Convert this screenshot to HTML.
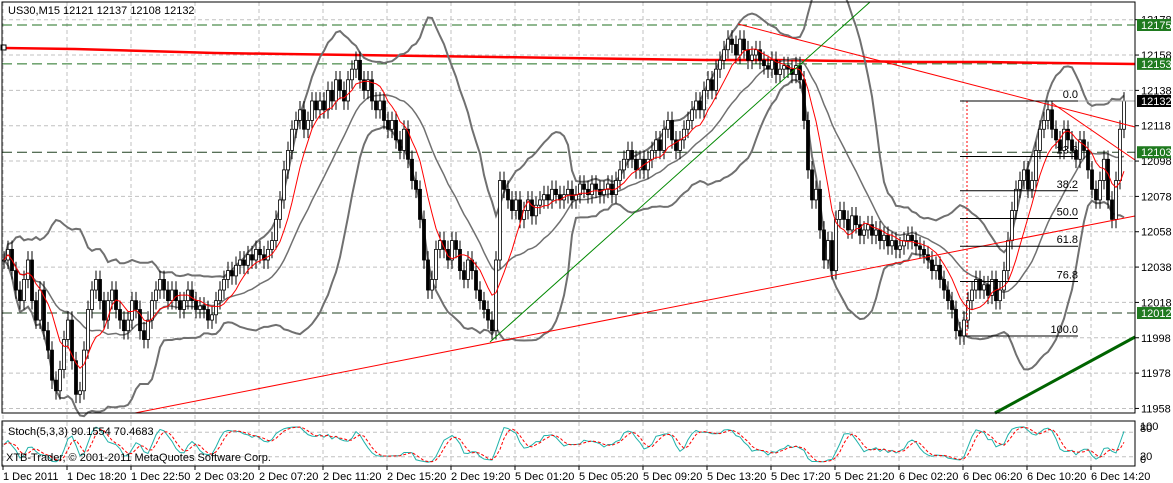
<!DOCTYPE html>
<html><head><meta charset="utf-8"><style>
body{margin:0;background:#fff;width:1173px;height:483px;overflow:hidden}
svg{display:block;font-family:"Liberation Sans",sans-serif}
</style></head><body>
<svg id="c" width="1173" height="483" viewBox="0 0 1173 483" xmlns="http://www.w3.org/2000/svg"></svg>
<script>
const closes=[12042,12048,12036,12025,12019,12031,12042,12019,12008,12025,
12002,11991,11974,11968,11980,11997,12008,11985,11966,11968,
11991,12014,12025,12031,12019,12008,12019,12025,12014,12008,
12002,12008,12019,12014,12002,11997,12008,12019,12025,12031,
12025,12019,12025,12019,12014,12019,12025,12019,12014,12016,
12014,12008,12011,12019,12025,12031,12036,12033,12039,12042,
12039,12045,12042,12048,12045,12042,12048,12053,12065,12076,
12093,12104,12116,12121,12127,12116,12121,12132,12127,12132,
12127,12138,12132,12144,12138,12132,12144,12150,12155,12144,
12138,12144,12132,12127,12132,12121,12116,12121,12110,12104,
12116,12099,12087,12082,12065,12042,12025,12031,12048,12053,
12048,12042,12053,12048,12036,12031,12042,12036,12025,12019,
12014,12008,12002,12042,12087,12082,12076,12070,12076,12065,
12070,12076,12067,12073,12076,12079,12076,12082,12079,12076,
12079,12082,12076,12079,12085,12082,12079,12085,12082,12079,
12082,12085,12079,12087,12093,12099,12104,12099,12093,12099,
12093,12099,12104,12110,12104,12116,12121,12110,12104,12110,
12116,12121,12127,12132,12127,12138,12144,12138,12150,12155,
12161,12167,12164,12158,12167,12161,12155,12158,12161,12155,
12152,12150,12155,12147,12150,12152,12150,12147,12152,12144,
12121,12093,12076,12082,12059,12042,12053,12036,12065,12070,
12065,12059,12067,12062,12056,12059,12062,12056,12059,12053,
12056,12050,12053,12048,12050,12053,12056,12053,12050,12048,
12045,12042,12036,12039,12031,12025,12019,12014,12002,11999,
12008,12019,12025,12031,12025,12028,12022,12031,12019,12025,
12036,12053,12070,12082,12087,12093,12082,12087,12104,12116,
12121,12127,12116,12110,12104,12116,12110,12104,12099,12110,
12104,12093,12082,12076,12087,12099,12076,12065,12087,12116,12132];
const priceTicks=[12178,12158,12138,12118,12098,12078,12058,12038,12018,11998,11978,11958];
const dateLabels=["1 Dec 2011","1 Dec 18:20","1 Dec 22:50","2 Dec 03:20","2 Dec 07:20","2 Dec 11:20","2 Dec 15:20","2 Dec 19:20","5 Dec 01:20","5 Dec 05:20","5 Dec 09:20","5 Dec 13:20","5 Dec 17:20","5 Dec 21:20","6 Dec 02:20","6 Dec 06:20","6 Dec 10:20","6 Dec 14:20"];
const levelPrices=[12175,12153,12103,12012];
const fibLevels=["0.0","23.6","38.2","50.0","61.8","76.8","100.0"];
const fibHigh=12132, fibLow=11999;

const S=document.getElementById('c');const NS='http://www.w3.org/2000/svg';
function el(t,a,p){const e=document.createElementNS(NS,t);for(const k in a)e.setAttribute(k,a[k]);(p||S).appendChild(e);return e;}
const y=p=>25+(12175-p)*1.767;
const x=i=>4+i*4;
const sy=v=>465-v*0.41;
const L=2,R=1135,T=2,B=413;

priceTicks.forEach(p=>{const g=el('line',{x1:L,x2:R,y1:y(p),y2:y(p),stroke:'#c0c0c0','stroke-dasharray':'4,3'});

const t=el('text',{x:1141,y:y(p)+4,'font-size':11,fill:'#000'});t.textContent=p;

el('line',{x1:R,x2:R+4,y1:y(p),y2:y(p),stroke:'#000'});});
dateLabels.forEach((d,k)=>{const xx=3+k*64;
const g=el('line',{x1:xx,x2:xx,y1:T,y2:466,stroke:'#c0c0c0','stroke-dasharray':'4,3'});

el('line',{x1:xx,x2:xx,y1:466,y2:470,stroke:'#000'});
const t=el('text',{x:xx,y:480,'font-size':11,fill:'#000'});t.textContent=d;
});
[80,20].forEach(v=>el('line',{x1:L,x2:R,y1:sy(v),y2:sy(v),stroke:'#c0c0c0','stroke-dasharray':'4,3'}));

levelPrices.forEach(p=>{const l=el('line',{x1:L,x2:R,y1:y(p),y2:y(p),stroke:(p>12140?'#207020':'#204020'),'stroke-dasharray':'10,5','stroke-width':1});
});
let r=el('polyline',{points:`4,48 75,49 145,51 215,53 285,54 355,55 425,56 495,57 565,58 635,59 705,60 775,60 845,61 915,62 985,62 1055,63 1135,64`,fill:'none',stroke:'#f00','stroke-width':2.5});

el('rect',{x:1,y:45,width:5,height:5,fill:'#fff',stroke:'#000'});

function sma(a,n,i){let s=0,c=0;for(let j=Math.max(0,i-n+1);j<=i;j++){s+=a[j];c++;}return s/c;}
let up=[],dn=[],ma=[];
closes.forEach((c,i)=>{const m=sma(closes,20,i);let v=0,n=0;for(let j=Math.max(0,i-19);j<=i;j++){v+=(closes[j]-m)**2;n++;}const sd=Math.sqrt(v/n);
up.push(`${x(i)},${y(m+2*sd)}`);dn.push(`${x(i)},${y(m-2*sd)}`);ma.push(`${x(i)},${y(sma(closes,8,i))}`);});
[[up,'bollinger-upper'],[dn,'bollinger-lower']].forEach(([pts,n])=>{const p=el('polyline',{points:pts.join(' '),fill:'none',stroke:'#707070','stroke-width':2});
});
const mid=closes.map((c,i)=>`${x(i)},${y(sma(closes,20,i))}`);
let pm=el('polyline',{points:mid.join(' '),fill:'none',stroke:'#707070','stroke-width':1.5});


closes.forEach((c,i)=>{const o=i?closes[i-1]:c;const hi=Math.max(o,c)+5,lo=Math.min(o,c)-5;
const g=el('g',{});
el('line',{x1:x(i),x2:x(i),y1:y(hi),y2:y(lo),stroke:'#000'},g);
const t=Math.min(y(o),y(c)),h=Math.max(1,Math.abs(y(o)-y(c)));
el('rect',{x:x(i)-1.5,y:t,width:3,height:h,fill:c>=o?'#fff':'#000',stroke:'#000','stroke-width':0.8},g);});
let pma=el('polyline',{points:ma.join(' '),fill:'none',stroke:'#f00','stroke-width':1});


[[135,413,1135,216,'#f00',1,'uptrend-line'],[738,24,1135,127,'#f00',1,'downtrend-line'],[1052,103,1135,160,'#f00',1,'short-downtrend-line'],
[490,342,870,2,'#080',1,'green-trend-line'],[995,413,1135,337,'#006400',3,'channel-line']].forEach(a=>{
const l=el('line',{x1:a[0],y1:a[1],x2:a[2],y2:a[3],stroke:a[4],'stroke-width':a[5]});});
el('line',{x1:1000,x2:R,y1:y(12132),y2:y(12132),stroke:'#a0a0a0'});

el('line',{x1:967,x2:967,y1:y(fibHigh),y2:y(fibLow),stroke:'#f00','stroke-dasharray':'2,2'});
fibLevels.forEach(f=>{const p=fibHigh-(fibHigh-fibLow)*parseFloat(f)/100;
const l=el('line',{x1:960,x2:1078,y1:y(p),y2:y(p),stroke:'#000'});
const t=el('text',{x:1078,y:y(p)-3,'font-size':11,'text-anchor':'end',fill:'#000'});t.textContent=f;
});

let K=[],Kr=[];closes.forEach((c,i)=>{let hh=-1e9,ll=1e9;for(let j=Math.max(0,i-4);j<=i;j++){const o=j?closes[j-1]:closes[j];hh=Math.max(hh,Math.max(o,closes[j])+5);ll=Math.min(ll,Math.min(o,closes[j])-5);}Kr.push((c-ll)/(hh-ll)*100);});
Kr.forEach((v,i)=>K.push(sma(Kr,3,i)));const D=K.map((v,i)=>sma(K,3,i));
let sk=el('polyline',{points:K.map((v,i)=>`${x(i)},${sy(v)}`).join(' '),fill:'none',stroke:'#20b2aa','stroke-width':1});

let sd=el('polyline',{points:D.map((v,i)=>`${x(i)},${sy(v)}`).join(' '),fill:'none',stroke:'#f00','stroke-dasharray':'3,2','stroke-width':1});


el('rect',{x:L,y:T,width:R-L,height:B-T,fill:'none',stroke:'#000'});
el('rect',{x:L,y:421,width:R-L,height:45,fill:'none',stroke:'#000'});
[[12175,'#1f7a1f','#fff'],[12153,'#1f7a1f','#fff'],[12132,'#000','#fff'],[12103,'#1f7a1f','#fff'],[12012,'#1f7a1f','#fff']].forEach(a=>{
const g=el('g',{});
el('rect',{x:1137,y:y(a[0])-6,width:34,height:12,fill:a[1]},g);
const t=el('text',{x:1141,y:y(a[0])+4,'font-size':11,fill:a[2]},g);t.textContent=a[0];});
[['100',430],['80',432],['20',460],['0',463]].forEach(a=>{const t=el('text',{x:1140,y:a[1],'font-size':11});t.textContent=a[0];});
let tt=el('text',{x:8,y:14,'font-size':11});tt.textContent='US30,M15  12121 12137 12108 12132';
let st=el('text',{x:8,y:435,'font-size':11});st.textContent='Stoch(5,3,3) 90.1554 70.4683';
let cp=el('text',{x:6,y:461,'font-size':11});cp.textContent='XTB-Trader, © 2001-2011 MetaQuotes Software Corp.';
</script></body></html>
